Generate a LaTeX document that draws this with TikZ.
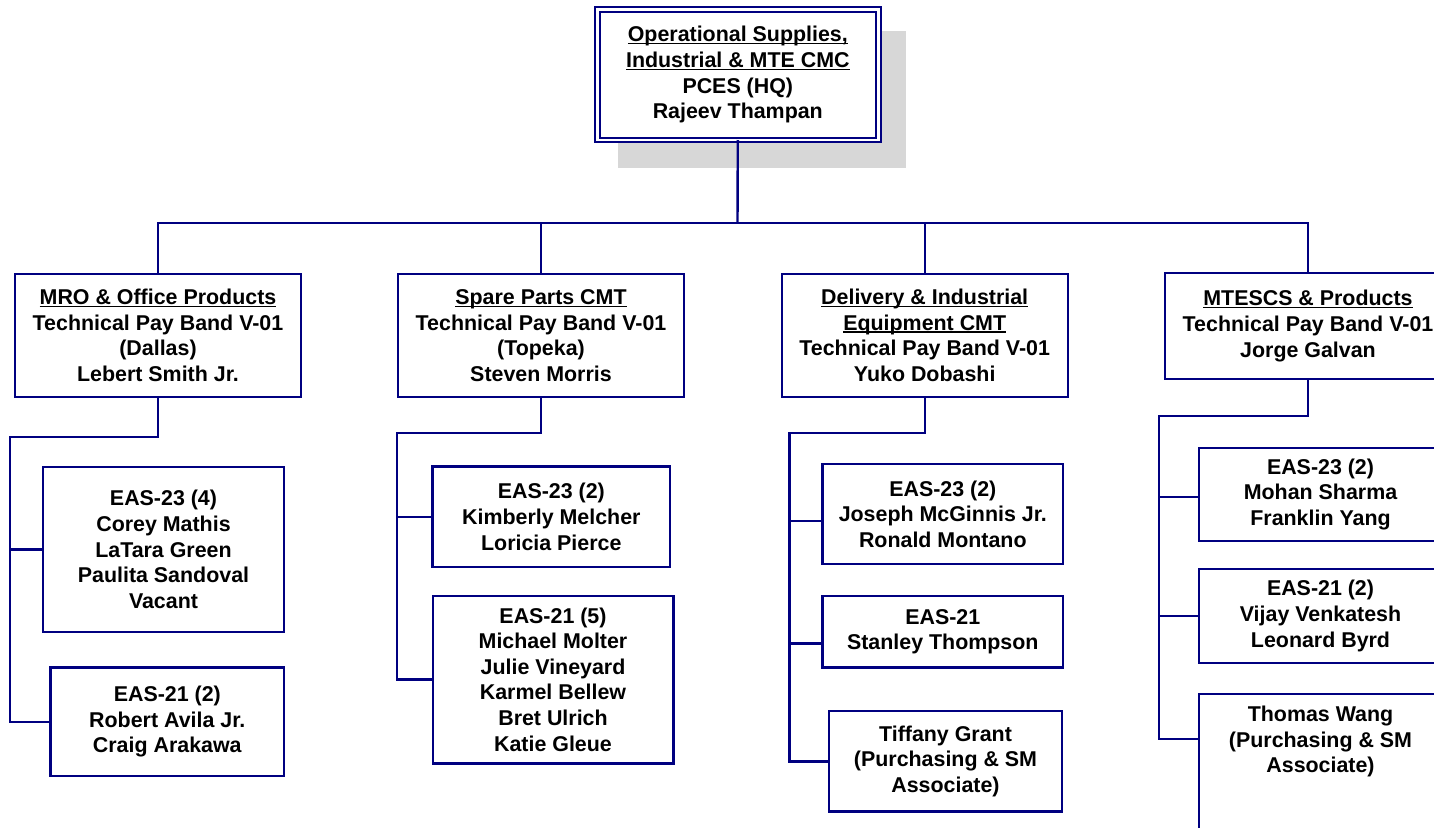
\documentclass[tikz,border=0pt]{standalone}
\usepackage{fontspec}
\setmainfont{Liberation Sans}
\usetikzlibrary{backgrounds}
\definecolor{chartnavy}{RGB}{0, 0, 128}
\definecolor{shadowgray}{RGB}{215, 215, 215}
\newsavebox{\hdbox}
\newcommand{\hdline}[1]{\sbox{\hdbox}{#1}\rlap{\rule[-2.6pt]{\wd\hdbox}{1.5pt}}\usebox{\hdbox}}
\tikzset{
  orgbox/.style={draw=chartnavy, line width=2.4pt, fill=white, rectangle, align=center,
    inner sep=4pt, font=\fontsize{21.4}{25.6}\selectfont\bfseries},
  unitbox/.style={orgbox, minimum width=286pt, minimum height=123pt},
  wire/.style={draw=chartnavy, line width=2.4pt},
}

\begin{document}
\begin{tikzpicture}[x=1pt, y=-1pt]
  \useasboundingbox (0,0) rectangle (1434,827);
  \clip (0,0) rectangle (1434,827);

  % Head office
  \node[orgbox, double, double distance=2.6pt, line width=2pt, outer sep=0pt,
        minimum width=281.2pt, minimum height=130.5pt] (hq) at (737.8,74.75) {
    \hdline{Operational Supplies,}\\\hdline{Industrial \& MTE CMC}\\PCES (HQ)\\Rajeev Thampan
  };
  \begin{scope}[on background layer]
    \fill[shadowgray] ([shift={(20.8,21.5)}]hq.north west) rectangle ([shift={(27.3,27.7)}]hq.south east);
  \end{scope}

  % Team leads
  \node[unitbox] (mro) at (158,335.5) {
    \hdline{MRO \& Office Products}\\Technical Pay Band V-01\\(Dallas)\\Lebert Smith Jr.
  };
  \node[unitbox] (spare) at (541,335.5) {
    \hdline{Spare Parts CMT}\\Technical Pay Band V-01\\(Topeka)\\Steven Morris
  };
  \node[unitbox] (deliv) at (924.7,335.5) {
    \hdline{Delivery \& Industrial}\\\hdline{Equipment CMT}\\Technical Pay Band V-01\\Yuko Dobashi
  };
  \node[unitbox, minimum height=106pt] (mtescs) at (1308,326) {
    \hdline{MTESCS \& Products}\\Technical Pay Band V-01\\Jorge Galvan
  };

  \coordinate (topbus) at (737.5,222.7);
  \draw[wire] (hq.south) -- (topbus);
  \draw[wire] (mro.north) |- (topbus) -| (mtescs.north);
  \draw[wire] (spare.north) -- (spare.north |- topbus);
  \draw[wire] (deliv.north) -- (deliv.north |- topbus);

  % MRO staff
  \node[orgbox, minimum width=241pt, minimum height=165pt] (m1) at (163.5,549.5) {
    EAS-23 (4)\\Corey Mathis\\LaTara Green\\Paulita Sandoval\\Vacant
  };
  \node[orgbox, minimum width=233.3pt, minimum height=108.3pt] (m2) at (167.3,721.8) {
    EAS-21 (2)\\Robert Avila Jr.\\Craig Arakawa
  };
  \coordinate (mbus) at (10,437);
  \draw[wire] (mro.south) |- (mbus) |- (m2.west);
  \draw[wire] (mbus) |- (m1.west);

  % Spare parts staff
  \node[orgbox, minimum width=237.3pt, minimum height=100.3pt] (s1) at (551.3,516.8) {
    EAS-23 (2)\\Kimberly Melcher\\Loricia Pierce
  };
  \node[orgbox, minimum width=240.6pt, minimum height=167.6pt] (s2) at (553,679.5) {
    EAS-21 (5)\\Michael Molter\\Julie Vineyard\\Karmel Bellew\\Bret Ulrich\\Katie Gleue
  };
  \coordinate (sbus) at (396.7,432.7);
  \draw[wire] (spare.south) |- (sbus) |- (s2.west);
  \draw[wire] (sbus) |- (s1.west);

  % Delivery staff
  \node[orgbox, minimum width=240.3pt, minimum height=100pt] (d1) at (942.8,514) {
    EAS-23 (2)\\Joseph McGinnis Jr.\\Ronald Montano
  };
  \node[orgbox, minimum width=240.3pt, minimum height=71.7pt] (d2) at (942.8,631.8) {
    EAS-21\\Stanley Thompson
  };
  \node[orgbox, minimum width=233pt, minimum height=100.7pt] (d3) at (945.5,761.3) {
    Tiffany Grant\\(Purchasing \& SM\\Associate)
  };
  \coordinate (dbus) at (789.3,432.7);
  \draw[wire] (deliv.south) |- (dbus) |- (d3.west);
  \draw[wire] (dbus) |- ([yshift=-7pt]d1.west);
  \draw[wire] (dbus) |- ([yshift=-11.7pt]d2.west);

  % MTESCS staff
  \node[orgbox, minimum width=243pt, minimum height=93pt] (t1) at (1320.5,494.5) {
    EAS-23 (2)\\Mohan Sharma\\Franklin Yang
  };
  \node[orgbox, minimum width=243pt, minimum height=94pt] (t2) at (1320.5,616) {
    EAS-21 (2)\\Vijay Venkatesh\\Leonard Byrd
  };
  \node[orgbox, anchor=north, minimum width=243pt, inner ysep=12pt, text depth=110pt] (t3) at (1320.5,693) {
    Thomas Wang\\(Purchasing \& SM\\Associate)
  };
  \coordinate (tbus) at (1159,416);
  \draw[wire] (mtescs.south) |- (tbus) |- ([yshift=-46pt]t3.north west);
  \draw[wire] (tbus) |- ([yshift=-2.5pt]t1.west);
  \draw[wire] (tbus) |- (t2.west);
\end{tikzpicture}
\end{document}
